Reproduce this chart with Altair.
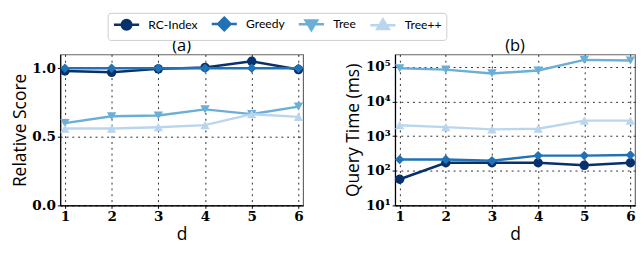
import altair as alt
import pandas as pd

d_vals = [1, 2, 3, 4, 5, 6]
series = ["RC-Index", "Greedy", "Tree", "Tree++"]
colors = ["#08306b", "#2171b5", "#6baed6", "#bad6ee"]
shapes = ["circle", "diamond", "triangle-down", "triangle-up"]
legend_paths = [
    "M-2.6,0H2.6M-1,0A1,1,0,1,0,1,0A1,1,0,1,0,-1,0Z",
    "M-2.6,0H2.6M0,-1.3L1.3,0L0,1.3L-1.3,0Z",
    "M-2.6,0H2.6M-1.2,-0.8L1.2,-0.8L0,1.2Z",
    "M-2.6,0H2.6M-1.2,0.8L1.2,0.8L0,-1.2Z",
]

# (a) relative score
score_rc = [0.98, 0.97, 0.995, 1.005, 1.05, 0.99]
score_greedy = [1.0, 1.0, 1.0, 1.0, 1.0, 1.0]
score_tree = [0.60, 0.65, 0.655, 0.70, 0.665, 0.72]
score_treepp = [0.56, 0.56, 0.57, 0.585, 0.665, 0.645]

# (b) query time (ms)
time_rc = [57, 171, 171, 171, 144, 171]
time_greedy = [212, 212, 195, 275, 275, 285]
time_tree = [92000, 84000, 65000, 79000, 160000, 154000]
time_treepp = [2080, 1830, 1570, 1650, 2810, 2810]

score_vals = [score_rc, score_greedy, score_tree, score_treepp]
time_vals = [time_rc, time_greedy, time_tree, time_treepp]


def long_df(vals):
    rows = []
    for s, v in zip(series, vals):
        for d, y in zip(d_vals, v):
            rows.append({"d": d, "series": s, "y": y})
    return pd.DataFrame(rows)


df_a = long_df(score_vals)
df_b = long_df(time_vals)

grid_kw = dict(grid=True, gridColor="black", gridDash=[2, 4], gridWidth=1, gridOpacity=0.85)

x_enc = alt.X(
    "d:Q",
    scale=alt.Scale(domain=[0.9, 6.1], nice=False, zero=False),
    axis=alt.Axis(values=d_vals, format="d", title="d", **grid_kw),
)


def panel(df, y_enc_fn, title, with_legend, width):
    layers = []
    for s, c, sh in zip(series, colors, shapes):
        base = alt.Chart(df).transform_filter(alt.datum.series == s)
        layers.append(
            base.mark_line(strokeWidth=2.5, color=c).encode(x=x_enc, y=y_enc_fn())
        )
        layers.append(
            base.mark_point(filled=True, opacity=1, size=95, shape=sh, color=c).encode(
                x=x_enc, y=y_enc_fn()
            )
        )
    if with_legend:
        layers.append(
            alt.Chart(df)
            .mark_point(filled=True, opacity=0)
            .encode(
                x=x_enc,
                y=y_enc_fn(),
                fill=alt.Fill("series:N", scale=alt.Scale(domain=series, range=colors), title=None,
                              legend=alt.Legend(symbolOpacity=1)),
                stroke=alt.Stroke("series:N", scale=alt.Scale(domain=series, range=colors), title=None,
                                  legend=alt.Legend(symbolOpacity=1)),
                shape=alt.Shape("series:N", scale=alt.Scale(domain=series, range=legend_paths), title=None,
                                legend=alt.Legend(symbolOpacity=1)),
            )
        )
    return alt.layer(*layers).properties(
        width=width, height=156, title=alt.TitleParams(title, fontSize=17, font="Open Sans",
                                                      fontWeight="normal", offset=0)
    )


def y_a():
    return alt.Y(
        "y:Q",
        scale=alt.Scale(domain=[0, 1.1], nice=False),
        axis=alt.Axis(values=[0, 0.5, 1.0], format=".1f", title="Relative Score", **grid_kw),
    )


def y_b():
    return alt.Y(
        "y:Q",
        scale=alt.Scale(type="log", domain=[10, 230000], nice=False),
        axis=alt.Axis(
            values=[10, 100, 1000, 10000, 100000],
            labelExpr="'10' + ['⁰','¹','²','³','⁴','⁵','⁶'][round(log(datum.value)/LN10)]",
            title="Query Time (ms)",
            **grid_kw,
        ),
    )


left = panel(df_a, y_a, "(a)", True, 251)
right = panel(df_b, y_b, "(b)", False, 248)

chart = (
    alt.hconcat(left, right, spacing=39)
    .properties(padding={"left": 3, "top": 0, "right": 0, "bottom": 0})
    .configure_view(stroke="#666666", strokeWidth=1.2)
    .configure_axis(
        labelFont="DejaVu Serif",
        labelFontWeight="bold",
        labelFontSize=14,
        labelColor="black",
        titleFont="Open Sans",
        titleFontWeight="normal",
        titleFontSize=18,
        titleColor="black",
        domain=True,
        domainColor="black",
        domainWidth=1.2,
        tickColor="black",
        tickSize=3,
        labelPadding=2,
    )
    .configure_axisY(titlePadding=3)
    .configure_axisX(titlePadding=2)
    .configure_legend(
        orient="none",
        legendX=49,
        legendY=-43,
        direction="horizontal",
        columns=4,
        strokeColor="#cccccc",
        fillColor="white",
        cornerRadius=3,
        padding=5,
        labelFont="Lato",
        labelFontSize=12.5,
        labelColor="black",
        symbolSize=100,
        symbolStrokeWidth=2.5,
        symbolOffset=8,
        labelOffset=16,
        columnPadding=9,
    )
)

chart.save("out.html", embed_options={"renderer": "svg", "actions": False})
